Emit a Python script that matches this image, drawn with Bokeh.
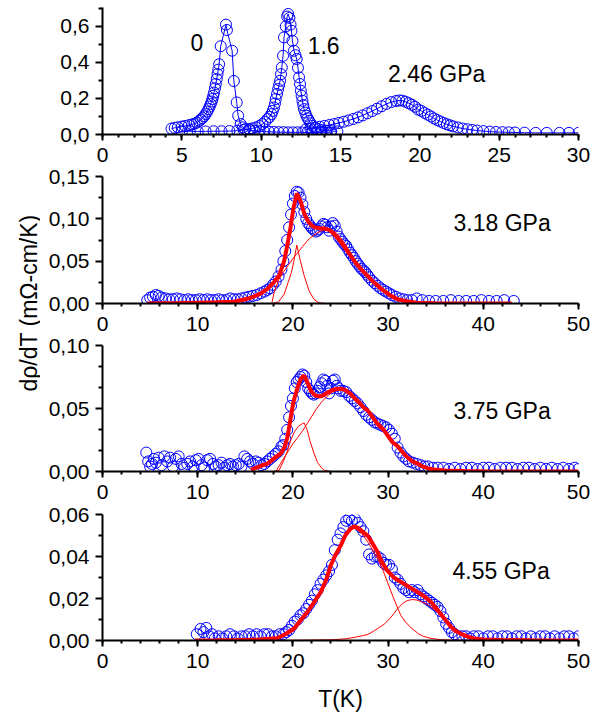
import math
from bokeh.plotting import figure
from bokeh.layouts import row, column
from bokeh.models import FixedTicker, CustomJSTickFormatter, Range1d, Label
from bokeh.embed import file_html
from bokeh.resources import INLINE

FONT = "Liberation Sans"
BLUE = "#0000ff"
RED = "#ff0000"

# ---------------- Panel 1 : 0, 1.6, 2.46 GPa ----------------
T_0 = [4.35, 4.55, 4.75, 5.0, 5.2, 5.45, 5.65, 5.8, 5.95, 6.1,
       6.2, 6.3, 6.4, 6.5, 6.6, 6.68, 6.75, 6.82, 6.88, 6.93,
       6.98, 7.03, 7.09, 7.14, 7.2, 7.25, 7.3, 7.35, 7.45, 7.78,
       7.84, 8.17, 8.28, 8.46, 8.55, 8.71, 8.85, 9.0,
       9.3, 9.6, 9.9, 10.2, 10.5, 10.8, 11.1, 11.4, 11.7, 12.0,
       12.3, 12.6, 12.9, 13.2, 13.5, 13.8, 14.1, 14.4]
V_0 = [0.033, 0.037, 0.040, 0.044, 0.047, 0.052, 0.056, 0.060, 0.066, 0.076,
       0.083, 0.091, 0.101, 0.113, 0.127, 0.141, 0.155, 0.169, 0.183, 0.197,
       0.215, 0.233, 0.257, 0.28, 0.308, 0.335, 0.36, 0.39, 0.49, 0.61,
       0.58, 0.465, 0.297, 0.178, 0.104, 0.058, 0.040, 0.030,
       0.024, 0.020, 0.018, 0.016, 0.015, 0.014, 0.013, 0.013, 0.012, 0.012,
       0.012, 0.011, 0.011, 0.011, 0.011, 0.010, 0.010, 0.010]

T_16 = [5.0, 5.5, 6.0, 6.5, 7.0, 7.5, 8.0, 8.5, 8.9, 9.24,
        9.45, 9.66, 9.88, 10.08, 10.25, 10.40, 10.53, 10.65, 10.73, 10.81,
        10.87, 10.92, 11.0, 11.07, 11.13, 11.19, 11.25, 11.30, 11.38, 11.44,
        11.55, 11.64, 11.70, 11.78, 11.85, 11.91, 11.97, 12.07, 12.16, 12.24,
        12.32, 12.39, 12.45, 12.50, 12.55, 12.60, 12.65, 12.70, 12.78, 12.85,
        12.93, 13.02, 13.12, 13.23, 13.4, 13.6, 13.8, 14.1, 14.4, 14.8]
V_16 = [0.018, 0.018, 0.017, 0.017, 0.018, 0.018, 0.019, 0.021, 0.025, 0.030,
        0.034, 0.039, 0.047, 0.058, 0.071, 0.086, 0.098, 0.113, 0.131, 0.150,
        0.172, 0.197, 0.225, 0.252, 0.275, 0.298, 0.335, 0.372, 0.437, 0.539,
        0.60, 0.655, 0.669, 0.647, 0.61, 0.576, 0.52, 0.465, 0.44, 0.419,
        0.37, 0.317, 0.28, 0.243, 0.215, 0.187, 0.163, 0.141, 0.122, 0.104,
        0.09, 0.076, 0.062, 0.048, 0.038, 0.030, 0.025, 0.021, 0.019, 0.017]

T_246 = [12.8, 13.1, 13.4, 13.7, 14.0, 14.3, 14.6, 14.9, 15.2, 15.5,
         15.8, 16.1, 16.4, 16.7, 17.0, 17.3, 17.6, 17.9, 18.2, 18.5,
         18.7, 18.9, 19.1, 19.3, 19.5, 19.7, 19.9, 20.1, 20.3, 20.5,
         20.7, 20.9, 21.1, 21.3, 21.5, 21.7, 21.9, 22.1, 22.4, 22.7,
         23.0, 23.3, 23.6, 24.0, 24.4, 24.8, 25.2, 25.6, 26.0, 26.6,
         27.3, 28.0, 28.8, 29.4, 30.0]
V_246 = [0.028, 0.033, 0.038, 0.043, 0.048, 0.053, 0.058, 0.064, 0.071, 0.078,
         0.086, 0.095, 0.106, 0.118, 0.130, 0.143, 0.157, 0.170, 0.180, 0.186,
         0.189, 0.188, 0.182, 0.174, 0.165, 0.154, 0.138, 0.131, 0.120, 0.110,
         0.100, 0.089, 0.080, 0.072, 0.064, 0.057, 0.051, 0.045, 0.039, 0.033,
         0.029, 0.025, 0.022, 0.019, 0.016, 0.014, 0.013, 0.012, 0.011, 0.010,
         0.009, 0.009, 0.009, 0.009, 0.009]

# ---------------- Panel 2 : 3.18 GPa ----------------
T_318 = [4.7, 5.0, 5.3, 5.6, 5.9, 6.2,
         6.6, 7.0, 7.4, 7.8, 8.2, 8.6, 9.0, 9.4, 9.8, 10.2,
         10.6, 11.0, 11.4, 11.8, 12.2, 12.6, 13.0, 13.4, 13.8, 14.2,
         14.6, 15.0,
         15.4, 15.8, 16.2, 16.6, 17.0,
         17.3, 17.6, 17.9, 18.2, 18.5, 18.8,
         19.0, 19.2, 19.4, 19.6, 19.8, 20.0, 20.2, 20.4, 20.6, 20.8,
         21.0, 21.2, 21.4, 21.6, 21.8, 22.0, 22.2, 22.4, 22.6, 22.8,
         23.0, 23.2, 23.4, 23.6, 23.8, 24.0, 24.2, 24.4, 24.6, 24.8,
         25.0, 25.2, 25.4, 25.6, 25.8, 26.0, 26.2, 26.4, 26.6, 26.8,
         27.0, 27.2, 27.4, 27.6, 27.8, 28.0,
         28.3, 28.6, 28.9, 29.2, 29.5, 29.8, 30.1, 30.4,
         30.8, 31.2, 31.6, 32.0,
         32.5, 33.0,
         33.6, 34.3, 35.0,
         35.8, 36.6, 37.4, 38.2, 39.0, 39.8, 40.6, 41.4, 42.2,
         43.2]
V_318 = [0.004, 0.007, 0.008, 0.010, 0.009, 0.007,
         0.006, 0.005, 0.005, 0.006, 0.005, 0.004, 0.005, 0.004, 0.004, 0.005,
         0.004, 0.005, 0.004, 0.004, 0.005, 0.004, 0.004, 0.006, 0.005, 0.005,
         0.006, 0.007,
         0.008, 0.009, 0.010, 0.012, 0.014,
         0.016, 0.018, 0.022, 0.026, 0.032, 0.040,
         0.050, 0.062, 0.075, 0.090, 0.105, 0.118, 0.127, 0.132, 0.131, 0.125,
         0.117, 0.108, 0.100, 0.095, 0.092, 0.089, 0.087, 0.085, 0.086, 0.088,
         0.091, 0.094, 0.093, 0.090, 0.086, 0.091, 0.095, 0.092, 0.085, 0.079,
         0.076, 0.073, 0.070, 0.068, 0.064, 0.060, 0.057, 0.054, 0.050, 0.047,
         0.044, 0.041, 0.039, 0.037, 0.034, 0.031,
         0.027, 0.024, 0.021, 0.018, 0.016, 0.014, 0.012, 0.010,
         0.008, 0.006, 0.005, 0.004,
         0.004, 0.006,
         0.004, 0.003, 0.003,
         0.003, 0.004, 0.003, 0.003, 0.003, 0.004, 0.003, 0.003, 0.004,
         0.003]

FIT318_T = [4.7, 6.0, 8.0, 10.0, 12.0, 13.8, 15.0, 15.6, 16.5, 17.3,
            18.0, 18.55, 19.08, 19.4, 19.75, 20.05, 20.41, 20.8, 21.2, 21.6,
            21.9, 22.3, 22.8, 23.3, 23.8, 24.33, 24.8, 25.4, 26.08, 26.6,
            27.2, 27.84, 28.4, 29.0, 29.58, 30.3, 30.99, 31.8, 33.0, 35.0,
            38.0, 43.0]
FIT318_V = [0.0, 0.0003, 0.0005, 0.001, 0.0015, 0.002, 0.005, 0.007, 0.011, 0.017,
            0.025, 0.033, 0.050, 0.068, 0.090, 0.112, 0.130, 0.121, 0.106, 0.097,
            0.093, 0.090, 0.089, 0.0886, 0.087, 0.082, 0.076, 0.067, 0.0563, 0.048,
            0.040, 0.0327, 0.026, 0.020, 0.015, 0.009, 0.005, 0.003, 0.001, 0.0003,
            0.0, 0.0]
NAR318_T = [17.8, 18.5, 19.08, 19.5, 19.85, 20.1, 20.41, 20.75, 21.18, 21.7, 22.2, 22.7, 23.5, 43.0]
NAR318_V = [0.0, 0.002, 0.011, 0.025, 0.037, 0.050, 0.069, 0.052, 0.033, 0.015, 0.005, 0.001, 0.0, 0.0]
BRD318_T = [17.8, 18.0, 18.5, 19.0, 19.5, 20.0, 20.5, 21.0, 21.5, 22.0,
            22.5, 23.0, 23.5, 24.0, 24.5, 25.0, 25.5, 26.0, 26.5, 27.0,
            27.5, 28.0, 28.5, 29.0, 29.5, 30.0, 30.5, 31.0, 31.5, 32.0,
            33.0, 35.0, 38.0, 43.0]
BRD318_V = [0.001, 0.012, 0.028, 0.037, 0.045, 0.053, 0.060, 0.067, 0.074, 0.079,
            0.083, 0.086, 0.0875, 0.087, 0.084, 0.078, 0.070, 0.061, 0.052, 0.043,
            0.036, 0.030, 0.025, 0.020, 0.016, 0.012, 0.008, 0.005, 0.003, 0.002,
            0.001, 0.0003, 0.0, 0.0]

# ---------------- Panel 3 : 3.75 GPa ----------------
T_375 = [4.6, 4.8, 5.0, 5.2, 5.4, 5.6,
         5.9, 6.2, 6.5, 6.8, 7.1, 7.4, 7.7, 8.0, 8.3, 8.6,
         8.9, 9.2, 9.5, 9.8, 10.1, 10.4, 10.7, 11.0, 11.3, 11.6,
         11.9, 12.2, 12.5, 12.8, 13.1, 13.4, 13.7, 14.0, 14.3, 14.6,
         14.9, 15.2, 15.5, 15.8, 16.1, 16.4, 16.7, 17.0, 17.3, 17.6,
         17.9, 18.2, 18.5, 18.8,
         19.0, 19.2, 19.4, 19.6, 19.8, 20.0, 20.2, 20.4, 20.6, 20.8,
         21.0, 21.2, 21.4, 21.6, 21.8, 22.0, 22.2, 22.4, 22.6, 22.8,
         23.0, 23.2, 23.4, 23.6, 23.8, 24.0, 24.2, 24.4, 24.6, 24.8,
         25.0, 25.3, 25.6, 25.9, 26.2, 26.5, 26.8, 27.1, 27.4, 27.7,
         28.0, 28.3, 28.6, 28.9, 29.2, 29.5, 29.8, 30.1, 30.4, 30.7,
         31.0, 31.3, 31.6, 31.9, 32.2,
         32.6, 33.0, 33.4, 33.8, 34.2,
         34.7, 35.2, 35.8, 36.4, 37.0, 37.6, 38.2, 38.8, 39.4, 40.0,
         40.6, 41.2, 41.8, 42.4, 43.0, 43.6, 44.2, 44.8, 45.4, 46.0,
         46.6, 47.2, 47.8, 48.4, 49.0, 49.6, 50.0]
V_375 = [0.015, 0.008, 0.004, 0.006, 0.010, 0.007,
         0.011, 0.005, 0.012, 0.008, 0.011, 0.004, 0.010, 0.012, 0.006, 0.003,
         0.006, 0.008, 0.004, 0.009, 0.010, 0.005, 0.003, 0.009, 0.010, 0.006,
         0.004, 0.005, 0.007, 0.003, 0.005, 0.006, 0.004, 0.005, 0.006, 0.004,
         0.012, 0.010, 0.008, 0.006, 0.008, 0.007, 0.005, 0.006, 0.008, 0.010,
         0.012, 0.014, 0.016, 0.020,
         0.021, 0.026, 0.033, 0.043, 0.052, 0.058, 0.066, 0.071, 0.073, 0.075,
         0.077, 0.076, 0.071, 0.066, 0.064, 0.062, 0.061, 0.062, 0.064, 0.067,
         0.070, 0.073, 0.072, 0.068, 0.062, 0.066, 0.072, 0.073, 0.068, 0.066,
         0.064, 0.064, 0.063, 0.060, 0.058, 0.056, 0.054, 0.051, 0.048, 0.045,
         0.043, 0.041, 0.039, 0.038, 0.037, 0.036, 0.035, 0.033, 0.030, 0.026,
         0.019, 0.015, 0.012, 0.010, 0.008,
         0.007, 0.006, 0.005, 0.004, 0.004,
         0.003, 0.003, 0.003, 0.002, 0.003, 0.002, 0.003, 0.003, 0.002, 0.003,
         0.003, 0.002, 0.003, 0.003, 0.003, 0.002, 0.003, 0.003, 0.002, 0.003,
         0.002, 0.003, 0.002, 0.003, 0.002, 0.003, 0.002]

FIT375_T = [15.6, 16.0, 16.5, 17.0, 17.33, 17.8, 18.2, 18.73, 19.1, 19.43,
            19.78, 20.05, 20.3, 20.6, 20.83, 21.18, 21.5, 21.9, 22.3, 22.7,
            23.1, 23.6, 24.1, 24.6, 25.03, 25.5, 26.0, 26.5, 27.0, 27.4,
            27.84, 28.3, 28.8, 29.2, 29.58, 30.0, 30.5, 31.0, 31.33, 31.8,
            32.3, 32.7, 33.1, 33.6, 34.2, 34.8, 36.0, 38.0, 40.0, 50.0]
FIT375_V = [0.0015, 0.0025, 0.004, 0.0055, 0.0063, 0.009, 0.0115, 0.0142, 0.019, 0.0274,
            0.0432, 0.055, 0.0617, 0.069, 0.0736, 0.0762, 0.071, 0.064, 0.0605, 0.0596,
            0.060, 0.0625, 0.0645, 0.0655, 0.0657, 0.0645, 0.062, 0.058, 0.0545, 0.051,
            0.0485, 0.044, 0.0385, 0.0355, 0.0327, 0.028, 0.023, 0.020, 0.017, 0.013,
            0.0095, 0.0075, 0.0063, 0.004, 0.0025, 0.0016, 0.0008, 0.0003, 0.0001, 0.0]
NAR375_T = [18.0, 18.55, 19.0, 19.4, 19.78, 20.2, 20.6, 21.0, 21.18, 21.5, 21.8, 22.23, 22.6, 23.0, 23.3, 24.0, 50.0]
NAR375_V = [0.0, 0.001, 0.008, 0.016, 0.025, 0.032, 0.036, 0.038, 0.0385, 0.033, 0.024, 0.0142, 0.007, 0.003, 0.001, 0.0, 0.0]
BRD375_T = [18.2, 18.6, 19.0, 19.5, 20.0, 20.5, 21.0, 21.5, 22.0, 22.5,
            23.0, 23.5, 24.0, 24.5, 25.0, 25.5, 26.0, 26.5, 27.0, 27.5,
            28.0, 28.5, 29.0, 29.5, 30.0, 30.5, 31.0, 31.5, 32.0, 32.5,
            33.0, 33.5, 34.0, 35.0, 36.0, 38.0, 40.0, 50.0]
BRD375_V = [0.0, 0.005, 0.010, 0.016, 0.022, 0.027, 0.032, 0.038, 0.044, 0.050,
            0.055, 0.059, 0.0625, 0.0648, 0.0657, 0.0645, 0.062, 0.058, 0.0545, 0.0505,
            0.047, 0.042, 0.037, 0.033, 0.028, 0.023, 0.020, 0.015, 0.0115, 0.0085,
            0.0065, 0.0042, 0.003, 0.0012, 0.0007, 0.0003, 0.0001, 0.0]

# ---------------- Panel 4 : 4.55 GPa ----------------
T_455 = [9.9, 10.3, 10.6, 10.9, 11.2, 11.5, 11.8,
         12.2, 12.6, 13.0, 13.4, 13.8, 14.2, 14.6, 15.0, 15.4, 15.8,
         16.2, 16.6, 17.0, 17.4, 17.8, 18.2, 18.6, 19.0,
         19.3, 19.6, 19.9, 20.2, 20.5, 20.8, 21.1, 21.4, 21.7, 22.0,
         22.3, 22.6, 22.9, 23.2, 23.5, 23.8, 24.1, 24.4, 24.7, 25.0,
         25.3, 25.6, 25.9, 26.2, 26.5, 26.8, 27.1, 27.4, 27.7, 28.0,
         28.3, 28.6, 28.9, 29.2, 29.5, 29.8, 30.1, 30.4, 30.7, 31.0,
         31.3, 31.6, 31.9, 32.2, 32.5, 32.8, 33.1, 33.4, 33.7, 34.0,
         34.3, 34.6, 34.9, 35.2, 35.5, 35.8, 36.1, 36.4, 36.7, 37.0,
         37.4, 37.8, 38.2, 38.6, 39.0,
         39.5, 40.0, 40.5, 41.0, 41.5, 42.0, 42.5, 43.0, 43.5, 44.0,
         44.5, 45.0, 45.5, 46.0, 46.5, 47.0, 47.5, 48.0, 48.5, 49.0,
         49.5, 50.0]
V_455 = [0.003, 0.0055, 0.004, 0.006, 0.002, 0.003, 0.001,
         0.002, 0.001, 0.002, 0.003, 0.002, 0.001, 0.002, 0.002, 0.003, 0.002,
         0.003, 0.002, 0.003, 0.003, 0.002, 0.002, 0.003, 0.003,
         0.004, 0.005, 0.007, 0.009, 0.010, 0.012, 0.013, 0.015, 0.017, 0.019,
         0.022, 0.024, 0.027, 0.029, 0.031, 0.033, 0.036, 0.043, 0.048, 0.051,
         0.054, 0.057, 0.058, 0.057, 0.058, 0.056, 0.054, 0.052, 0.048, 0.041,
         0.039, 0.040, 0.040, 0.039, 0.037, 0.036, 0.036, 0.034, 0.030, 0.029,
         0.027, 0.025, 0.024, 0.023, 0.024, 0.023, 0.024, 0.022, 0.021, 0.020,
         0.019, 0.018, 0.017, 0.016, 0.014, 0.011, 0.008, 0.006, 0.004, 0.003,
         0.002, 0.002, 0.002, 0.001, 0.002,
         0.002, 0.001, 0.002, 0.002, 0.001, 0.002, 0.002, 0.001, 0.002, 0.002,
         0.001, 0.002, 0.001, 0.002, 0.002, 0.001, 0.002, 0.001, 0.002, 0.002,
         0.001, 0.002]

FIT455_T = [9.7, 12.0, 14.0, 15.6, 16.5, 17.5, 18.38, 19.2, 20.13, 20.8,
            21.53, 22.2, 22.93, 23.5, 23.98, 24.5, 25.03, 25.5, 26.0, 26.43,
            26.9, 27.4, 27.84, 28.4, 28.9, 29.4, 29.9, 30.6, 31.33, 32.2,
            33.08, 33.8, 34.5, 35.2, 35.9, 36.6, 37.1, 37.6, 38.3, 39.0,
            40.0, 42.0, 45.0, 50.0]
FIT455_V = [0.0, 0.0001, 0.0002, 0.0003, 0.0005, 0.0008, 0.0012, 0.003, 0.0057, 0.0095,
            0.0136, 0.018, 0.0231, 0.029, 0.0358, 0.041, 0.0453, 0.050, 0.053, 0.0544,
            0.0535, 0.0515, 0.050, 0.046, 0.042, 0.037, 0.0334, 0.030, 0.0279, 0.0255,
            0.0231, 0.021, 0.0184, 0.0145, 0.0105, 0.0065, 0.0045, 0.0033, 0.002, 0.001,
            0.0005, 0.0002, 0.0001, 0.0]
A455_T = [9.7, 12.0, 14.0, 15.6, 16.5, 17.5, 18.38, 19.2, 20.13, 20.8,
          21.53, 22.2, 22.93, 23.5, 23.98, 24.5, 25.03, 25.5, 26.0, 26.43,
          26.9, 27.4, 28.0, 28.5, 29.0, 29.5, 30.0, 30.5, 31.0, 31.33,
          31.8, 32.3, 32.7, 33.2, 33.7, 34.5, 35.5, 37.0, 50.0]
A455_V = [0.0, 0.0001, 0.0002, 0.0003, 0.0005, 0.0008, 0.0012, 0.003, 0.0057, 0.0095,
          0.0136, 0.018, 0.0231, 0.029, 0.0356, 0.0406, 0.0448, 0.0493, 0.0522, 0.0535,
          0.0522, 0.050, 0.046, 0.042, 0.038, 0.033, 0.027, 0.021, 0.0155, 0.012,
          0.009, 0.0065, 0.005, 0.0032, 0.002, 0.001, 0.0004, 0.0001, 0.0]
B455_T = [15.6, 20.0, 22.0, 24.3, 25.5, 26.5, 27.3, 27.84, 28.5, 29.0,
          29.6, 30.2, 30.6, 31.0, 31.5, 32.0, 32.5, 33.0, 33.5, 34.0,
          34.5, 35.0, 35.5, 35.9, 36.4, 36.9, 37.4, 38.0, 38.6, 39.2,
          40.0, 42.0, 45.0, 50.0]
B455_V = [0.0, 0.0001, 0.0002, 0.0004, 0.0008, 0.0015, 0.0023, 0.0028, 0.0045, 0.006,
          0.0078, 0.0105, 0.0128, 0.0152, 0.0175, 0.019, 0.0195, 0.0193, 0.0185, 0.0175,
          0.016, 0.0142, 0.012, 0.0101, 0.0078, 0.0055, 0.0038, 0.0022, 0.0012, 0.0007,
          0.0003, 0.0001, 0.0, 0.0]

# ---------------- ticks ----------------
X1_MAJOR = [0, 5, 10, 15, 20, 25, 30]
X1_MINOR = list(range(0, 31))
X_MAJOR = [0, 10, 20, 30, 40, 50]
X_MINOR = list(range(0, 51, 2))
Y1_MAJOR = [0.0, 0.2, 0.4, 0.6]
Y1_MINOR = [0.1, 0.3, 0.5, 0.7]
Y2_MAJOR = [0.0, 0.05, 0.10, 0.15]
Y2_MINOR = [0.025, 0.075, 0.125]
Y3_MAJOR = [0.0, 0.05, 0.10]
Y3_MINOR = [0.01667, 0.03333, 0.06667, 0.08333]
Y4_MAJOR = [0.0, 0.02, 0.04, 0.06]
Y4_MINOR = [0.01, 0.03, 0.05]

PANEL_W = 560
LEFT = 62
FRAME_W = 476
OVERLAP = 14


def pair(a, b):
    n = min(len(a), len(b))
    return a[:n], b[:n]


def make_panel(xmax, ymax, xmaj, xmin, ymaj, ymin, ydig, top, frame_h, bottom, first=False):
    kw = {}
    if not first:
        kw["margin"] = (-OVERLAP, 0, 0, 0)
    p = figure(width=PANEL_W, height=top + frame_h + bottom,
               x_range=Range1d(0, xmax), y_range=Range1d(0, ymax),
               output_backend="svg", toolbar_location=None,
               min_border_left=LEFT, min_border_right=PANEL_W - LEFT - FRAME_W,
               min_border_top=top, min_border_bottom=bottom, **kw)
    p.outline_line_color = None
    p.grid.visible = False
    p.background_fill_color = None
    p.border_fill_color = None
    p.xaxis.ticker = FixedTicker(ticks=xmaj, minor_ticks=xmin)
    p.yaxis.ticker = FixedTicker(ticks=ymaj, minor_ticks=ymin)
    p.yaxis.formatter = CustomJSTickFormatter(
        code="return tick.toFixed(%d).replace('.', ',');" % ydig)
    for ax in (p.xaxis[0], p.yaxis[0]):
        ax.axis_line_width = 2
        ax.axis_line_color = "black"
        ax.major_tick_line_width = 2
        ax.minor_tick_line_width = 2
        ax.major_tick_line_color = "black"
        ax.minor_tick_line_color = "black"
        ax.major_tick_in = 0
        ax.minor_tick_in = 0
        ax.major_label_text_font = FONT
        ax.major_label_text_font_size = "21px"
        ax.major_label_text_color = "black"
    p.xaxis.major_tick_out = 6
    p.xaxis.minor_tick_out = 3
    p.xaxis.major_label_standoff = 7
    p.yaxis.major_tick_out = 7
    p.yaxis.minor_tick_out = 4
    p.yaxis.major_label_standoff = 6
    return p


def circles(p, t, v):
    x, y = pair(t, v)
    p.scatter(x, y, marker="circle", size=11, fill_color=None,
              line_color=BLUE, line_width=1)


def curve(p, t, v, w, color=RED):
    x, y = pair(t, v)
    p.line(x, y, line_color=color, line_width=w)


def tag(p, x, y, text):
    p.add_layout(Label(x=x, y=y, text=text, text_font=FONT, text_font_size="23px",
                       text_align="left", text_baseline="middle", text_color="black"))


# Panel 1 : frame 7..134
p1 = make_panel(30, 0.705, X1_MAJOR, X1_MINOR, Y1_MAJOR, Y1_MINOR, 1, 7, 127, 44, first=True)
for t, v in ((T_0, V_0), (T_16, V_16), (T_246, V_246)):
    curve(p1, t, v, 1, BLUE)
    circles(p1, t, v)
tag(p1, 5.55, 0.512, "0")
tag(p1, 12.93, 0.495, "1.6")
tag(p1, 18.0, 0.335, "2.46 GPa")

# Panel 2 : frame 176..303
p2 = make_panel(50, 0.15, X_MAJOR, X_MINOR, Y2_MAJOR, Y2_MINOR, 2, 12, 127, 44)
circles(p2, T_318, V_318)
curve(p2, NAR318_T, NAR318_V, 1)
curve(p2, BRD318_T, BRD318_V, 1)
curve(p2, FIT318_T, FIT318_V, 4)
tag(p2, 36.87, 0.0945, "3.18 GPa")

# Panel 3 : frame 345..471
p3 = make_panel(50, 0.10, X_MAJOR, X_MINOR, Y3_MAJOR, Y3_MINOR, 2, 12, 126, 44)
circles(p3, T_375, V_375)
curve(p3, NAR375_T, NAR375_V, 1)
curve(p3, BRD375_T, BRD375_V, 1)
curve(p3, FIT375_T, FIT375_V, 4)
tag(p3, 36.87, 0.0481, "3.75 GPa")

# Panel 4 : frame 514..640
p4 = make_panel(50, 0.06, X_MAJOR, X_MINOR, Y4_MAJOR, Y4_MINOR, 2, 13, 126, 80)
circles(p4, T_455, V_455)
curve(p4, A455_T, A455_V, 1)
curve(p4, B455_T, B455_V, 1)
curve(p4, FIT455_T, FIT455_V, 4)
tag(p4, 36.77, 0.0329, "4.55 GPa")
p4.xaxis.axis_label = "T(K)"
p4.xaxis.axis_label_text_font = FONT
p4.xaxis.axis_label_text_font_size = "23px"
p4.xaxis.axis_label_text_font_style = "normal"
p4.xaxis.axis_label_text_color = "black"
p4.xaxis.axis_label_standoff = 15

# Shared y label strip
lab = figure(width=600 - PANEL_W, height=720, x_range=Range1d(0, 600 - PANEL_W),
             y_range=Range1d(0, 720), x_axis_type=None, y_axis_type=None,
             output_backend="svg", toolbar_location=None,
             min_border_left=0, min_border_right=0, min_border_top=0, min_border_bottom=0)
lab.outline_line_color = None
lab.grid.visible = False
lab.background_fill_color = None
lab.border_fill_color = None
lab.add_layout(Label(x=28, y=417.5, text="dρ/dT (mΩ-cm/K)", angle=math.pi / 2,
                     text_font=FONT, text_font_size="23px", text_align="center",
                     text_baseline="middle", text_color="black"))

layout = row(lab, column(p1, p2, p3, p4, spacing=0), spacing=0)

with open("out.html", "w") as f:
    f.write(file_html(layout, INLINE))
